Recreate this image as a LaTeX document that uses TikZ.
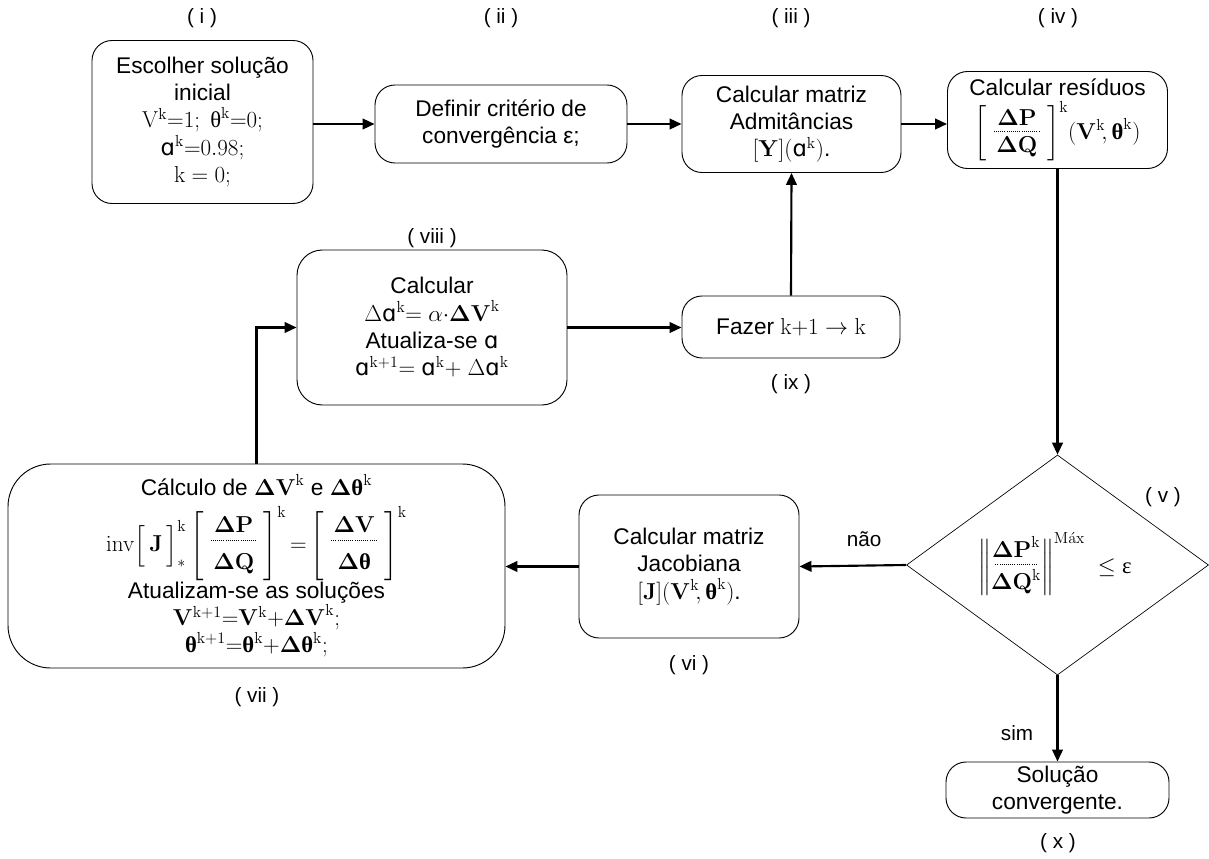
\documentclass[tikz,border=0pt]{standalone}
\usepackage{amsmath,bm}
\usepackage[no-math]{fontspec}
\setmainfont{Liberation Sans}
\newfontfamily\dvs{DejaVu Sans}
\newfontfamily\lserif{Liberation Serif}
\usetikzlibrary{shapes.geometric,arrows.meta}
\newcommand{\la}{{\dvs ɑ}}
\newcommand{\rmk}{\mathrm{k}}
\newcommand{\uth}{\text{\lserif θ}}
\newcommand{\bth}{\text{\lserif\bfseries θ}}
\newcommand{\dotrule}[1]{\makebox[#1]{\leaders\hbox to 1.6pt{\hss\rule{0.6pt}{0.6pt}\hss}\hfill}}
\newcommand{\dmatx}[4]{\left[\begin{array}{@{\;}c@{\;}}#3\\[#1]\dotrule{2.1em}\\[#2]#4\end{array}\right]}
\begin{document}
\begin{tikzpicture}[x=0.75pt,y=-0.75pt,
  font=\fontsize{17}{20.5}\selectfont,
  box/.style={draw, line width=0.7pt, rounded corners=15pt, align=center, inner sep=1pt},
  lbl/.style={font=\fontsize{15.5}{18}\selectfont},
  arr/.style={line width=1.6pt, -{Triangle[length=9pt,width=8pt]}}]
\useasboundingbox (0,0) rectangle (1209,859);

% top row
\node[box, minimum width=221*0.75pt, minimum height=163*0.75pt] (i) at (202.5,122)
  {Escolher solução\\ inicial\\ $\mathrm{V}^{\rmk}{=}1;\ \uth^{\rmk}{=}0;$\\ \la$^{\rmk}{=}0.98;$\\ $\mathrm{k}=0;$};
\node[box, minimum width=252*0.75pt, minimum height=78*0.75pt] (ii) at (501,124)
  {Definir critério de\\ convergência ε;};
\node[box, minimum width=219*0.75pt, minimum height=97*0.75pt] (iii) at (791.5,124)
  {Calcular matriz\\ Admitâncias\\ $[\mathbf{Y}](\text{\la}^{\rmk})$.};
\node[box, minimum width=220*0.75pt, minimum height=97*0.75pt] (iv) at (1057.5,120)
  {Calcular resíduos\\[3pt] $\dmatx{-15.5pt}{-5pt}{\mathbf{\Delta P}}{\mathbf{\Delta Q}}^{\rmk}\!(\mathbf{V}^{\rmk}\!,\bth^{\rmk})$};

% middle row
\node[box, rounded corners=19pt, minimum width=270*0.75pt, minimum height=155*0.75pt] (viii) at (432,327.5)
  {Calcular\\ $\Delta$\la$^{\rmk}{=}\ \alpha{\cdot}\mathbf{\Delta V}^{\rmk}$\\ Atualiza-se \la\\ \la$^{\mathrm{k+1}}{=}\ $\la$^{\rmk}{+}\ \Delta$\la$^{\rmk}$};
\node[box, minimum width=218*0.75pt, minimum height=62*0.75pt] (ix) at (791,327)
  {Fazer $\mathrm{k{+}1}\rightarrow\mathrm{k}$};

% bottom row
\node[box, rounded corners=32pt, minimum width=497*0.75pt, minimum height=204*0.75pt] (vii) at (256.5,566)
  {Cálculo de $\mathbf{\Delta V}^{\rmk}$ e $\mathbf{\Delta}\bth^{\rmk}$\\[7pt]
   $\mathrm{inv}\Big[\,\mathbf{J}\,\Big]^{\rmk}_{*}\dmatx{-14.5pt}{1.5pt}{\mathbf{\Delta P}}{\mathbf{\Delta Q}}^{\rmk}{=}\dmatx{-14.5pt}{1.5pt}{\mathbf{\Delta V}}{\mathbf{\Delta}\bth}^{\rmk}$\\[0pt]
   Atualizam-se as soluções\\
   $\mathbf{V}^{\mathrm{k+1}}{=}\mathbf{V}^{\rmk}{+}\mathbf{\Delta V}^{\rmk};$\\
   $\bth^{\mathrm{k+1}}{=}\bth^{\rmk}{+}\mathbf{\Delta}\bth^{\rmk};$};
\node[box, minimum width=220*0.75pt, minimum height=143*0.75pt] (vi) at (689,566.5)
  {Calcular matriz\\ Jacobiana\\ $[\mathbf{J}](\mathbf{V}^{\rmk}\!,\bth^{\rmk})$.};
\node[draw, line width=0.5pt, shape=diamond, inner sep=0pt, minimum width=302*0.75pt, minimum height=220*0.75pt] (v) at (1057.5,565) {};
\node (vtext) at (1055,565)
  {$\left\|\begin{array}{@{}c@{}}\mathbf{\Delta P}^{\rmk}\\[-15pt]\dotrule{1.9em}\\[-3pt]\mathbf{\Delta Q}^{\rmk}\end{array}\right\|^{\mathrm{M\acute{a}x}}\;\leq\text{\lserif ε}$};
\node[box, minimum width=223*0.75pt, minimum height=56*0.75pt] (x) at (1057.5,790)
  {Solução\\ convergente.};

% labels
\node[lbl] (li) at (202,18) {( i )};
\node[lbl] (lii) at (501,18) {( ii )};
\node[lbl] (liii) at (791,18) {( iii )};
\node[lbl] (liv) at (1058,18) {( iv )};
\node[lbl] (lviii) at (432,238) {( viii )};
\node[lbl] (lix) at (791,384) {( ix )};
\node[lbl] (lv) at (1163,497) {( v )};
\node[lbl] (lvi) at (689,665) {( vi )};
\node[lbl] (lvii) at (257,697) {( vii )};
\node[lbl] (lx) at (1058,843) {( x )};
\node[lbl] (nao) at (864,539) {não};
\node[lbl] (sim) at (1017,733) {sim};

% connectors
\draw[arr] (i.east |- ii.west) -- (ii.west);
\draw[arr] (ii) -- (iii);
\draw[arr] (iii) -- (iv.west |- iii.east);
\draw[arr] (iv.south) -- (iv.south |- v.north);
\draw[arr] (v.west) -- (vi.east);
\draw[arr] (vi.west) -- (vii.east |- vi.west);
\draw[arr] (vii.north) |- (viii.west);
\draw[arr] (viii.east) -- (ix.west |- viii.east);
\draw[arr] (ix.north) -- (iii.south);
\draw[arr] (v.south) -- (x.north);
\end{tikzpicture}
\end{document}
